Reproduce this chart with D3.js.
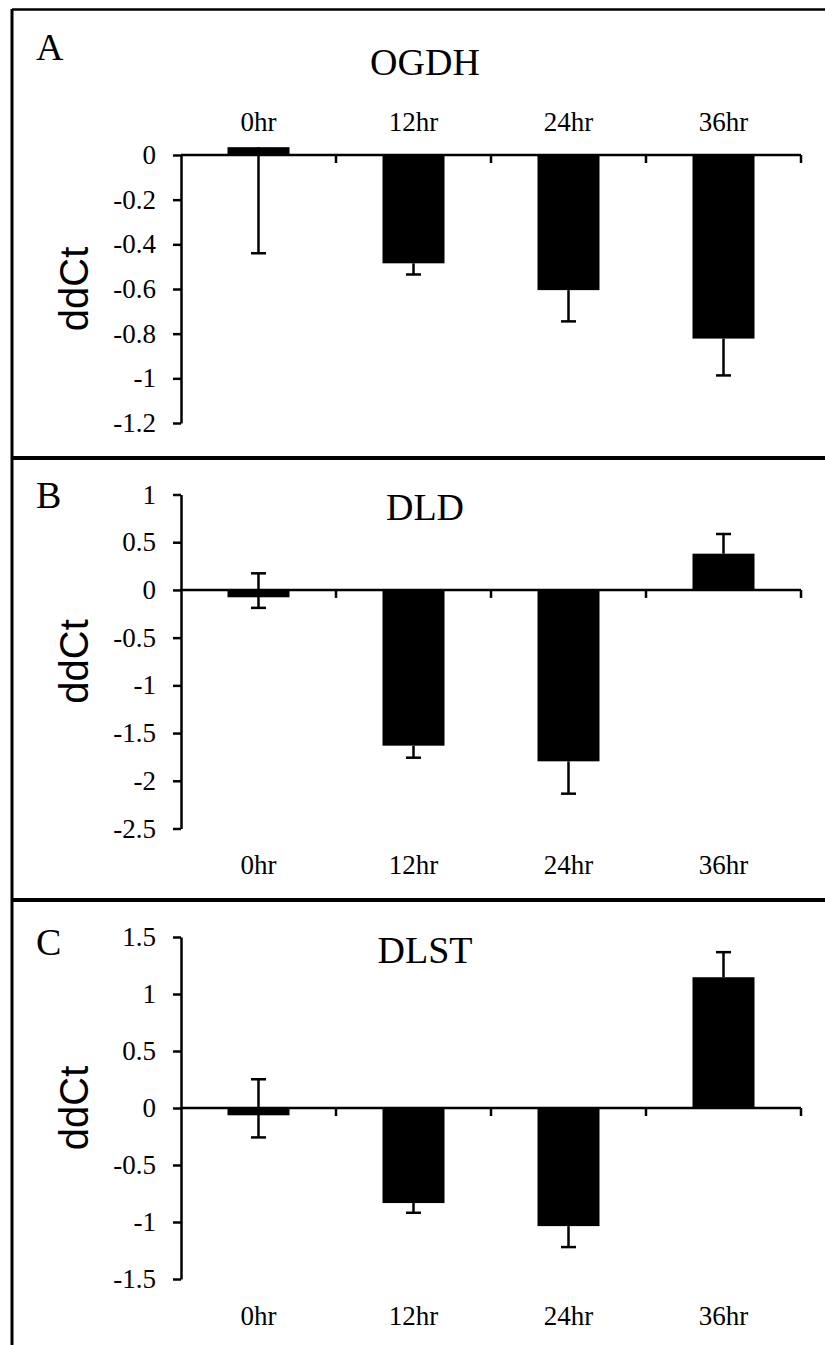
<!DOCTYPE html>
<html>
<head>
<meta charset="utf-8">
<script src="https://cdn.jsdelivr.net/npm/d3@7"></script>
<style>
  body { margin: 0; background: #fff; }
  svg text { fill: #000; }
</style>
</head>
<body>
<div id="chart"></div>
<script>
// categories (time points)
var cats = ["0hr", "12hr", "24hr", "36hr"];

// OGDH
var ogdhVals = [0.035, -0.485, -0.605, -0.822];
var ogdhLo   = [-0.44, -0.535, -0.745, -0.987];
var ogdhHi   = [0.035, -0.485, -0.605, -0.822];
var ogdhTicks = [0, -0.2, -0.4, -0.6, -0.8, -1, -1.2];

// DLD
var dldVals = [-0.077, -1.632, -1.796, 0.38];
var dldLo   = [-0.188, -1.758, -2.135, 0.38];
var dldHi   = [0.174, -1.632, -1.796, 0.586];
var dldTicks = [1, 0.5, 0, -0.5, -1, -1.5, -2, -2.5];

// DLST
var dlstVals = [-0.064, -0.834, -1.036, 1.147];
var dlstLo   = [-0.258, -0.919, -1.22, 1.147];
var dlstHi   = [0.252, -0.834, -1.036, 1.367];
var dlstTicks = [1.5, 1, 0.5, 0, -0.5, -1, -1.5];

var W = 825, H = 1345;
var serif = "'Liberation Serif', 'Times New Roman', serif";

var svg = d3.select("#chart").append("svg")
    .attr("width", W)
    .attr("height", H);

// panel frame lines
svg.append("line").attr("x1", 12).attr("x2", 12).attr("y1", 9).attr("y2", H)
    .attr("stroke", "#000").attr("stroke-width", 3);
svg.append("line").attr("x1", 12).attr("x2", W).attr("y1", 9.5).attr("y2", 9.5)
    .attr("stroke", "#000").attr("stroke-width", 2.5);
[458, 900].forEach(function(yy) {
  svg.append("line").attr("x1", 12).attr("x2", W).attr("y1", yy).attr("y2", yy)
      .attr("stroke", "#000").attr("stroke-width", 4);
});

var x = d3.scaleBand()
    .domain(cats)
    .range([181, 801])
    .padding(0);
var bw = x.bandwidth();

var panels = [
  {letter: "A", title: "OGDH", vals: ogdhVals, lo: ogdhLo, hi: ogdhHi, ticks: ogdhTicks,
   domain: [-1.2, 0], range: [423, 155], labelY: 122, letterY: 60, titleY: 75},
  {letter: "B", title: "DLD", vals: dldVals, lo: dldLo, hi: dldHi, ticks: dldTicks,
   domain: [-2.5, 1], range: [828.5, 494.5], labelY: 865, letterY: 508, titleY: 520},
  {letter: "C", title: "DLST", vals: dlstVals, lo: dlstLo, hi: dlstHi, ticks: dlstTicks,
   domain: [-1.5, 1.5], range: [1279, 937], labelY: 1316, letterY: 955, titleY: 963}
];

panels.forEach(function(p) {
  var y = d3.scaleLinear().domain(p.domain).range(p.range);
  var g = svg.append("g");

  // panel letter and title
  g.append("text")
    .attr("x", 36).attr("y", p.letterY)
    .style("font-family", serif).style("font-size", "38px")
    .text(p.letter);
  g.append("text")
    .attr("x", 425).attr("y", p.titleY)
    .attr("text-anchor", "middle")
    .style("font-family", serif).style("font-size", "38px")
    .text(p.title);

  // y axis label
  g.append("text")
    .attr("transform", "translate(74," + ((p.range[0] + p.range[1]) / 2) + ") rotate(-90)")
    .attr("dy", "0.36em")
    .attr("text-anchor", "middle")
    .style("font-family", "'Liberation Sans', Arial, sans-serif")
    .style("font-size", "40px")
    .text("ddCt");

  // error bars (drawn first, bars cover the inner half)
  cats.forEach(function(c, i) {
    var cx = x(c) + bw / 2;
    g.append("line")
      .attr("x1", cx).attr("x2", cx)
      .attr("y1", y(p.lo[i])).attr("y2", y(p.hi[i]))
      .attr("stroke", "#000").attr("stroke-width", 2.5);
    [p.lo[i], p.hi[i]].forEach(function(v) {
      if (v === p.vals[i]) return;  // hidden end, no cap
      g.append("line")
        .attr("x1", cx - 7.5).attr("x2", cx + 7.5)
        .attr("y1", y(v)).attr("y2", y(v))
        .attr("stroke", "#000").attr("stroke-width", 2.5);
    });
  });

  // bars
  g.selectAll(".bar").data(cats).enter().append("rect")
    .attr("class", "bar")
    .attr("x", function(d) { return x(d) + bw * 0.3; })
    .attr("width", bw * 0.4)
    .attr("y", function(d, i) { return Math.min(y(p.vals[i]), y(0)); })
    .attr("height", function(d, i) { return Math.abs(y(p.vals[i]) - y(0)); })
    .style("fill", "#000");

  // y axis
  var ya = g.append("g")
    .attr("transform", "translate(181,0)")
    .call(d3.axisLeft(y).tickValues(p.ticks).tickSize(8).tickSizeOuter(0).tickPadding(17)
      .tickFormat(function(d) { return String(d); }));
  ya.attr("font-family", serif).attr("font-size", 27);
  ya.selectAll("path, line").attr("stroke", "#000").attr("stroke-width", 2.5);
  ya.selectAll("text")
    .style("font-family", serif).style("font-size", "27px").attr("fill", "#000");

  // category axis at zero
  var y0 = y(0);
  g.append("line")
    .attr("x1", x.range()[0]).attr("x2", x.range()[1])
    .attr("y1", y0).attr("y2", y0)
    .attr("stroke", "#000").attr("stroke-width", 2.5);
  g.selectAll(".xtick").data(cats).enter().append("line")
    .attr("x1", function(d) { return x(d) + bw; })
    .attr("x2", function(d) { return x(d) + bw; })
    .attr("y1", y0).attr("y2", y0 + 8)
    .attr("stroke", "#000").attr("stroke-width", 2.5);

  // category labels
  g.selectAll(".xlab").data(cats).enter().append("text")
    .attr("x", function(d) { return x(d) + bw / 2; })
    .attr("y", p.labelY)
    .attr("dy", "0.35em")
    .attr("text-anchor", "middle")
    .style("font-family", serif).style("font-size", "27px")
    .text(function(d) { return d; });
});
</script>
</body>
</html>
